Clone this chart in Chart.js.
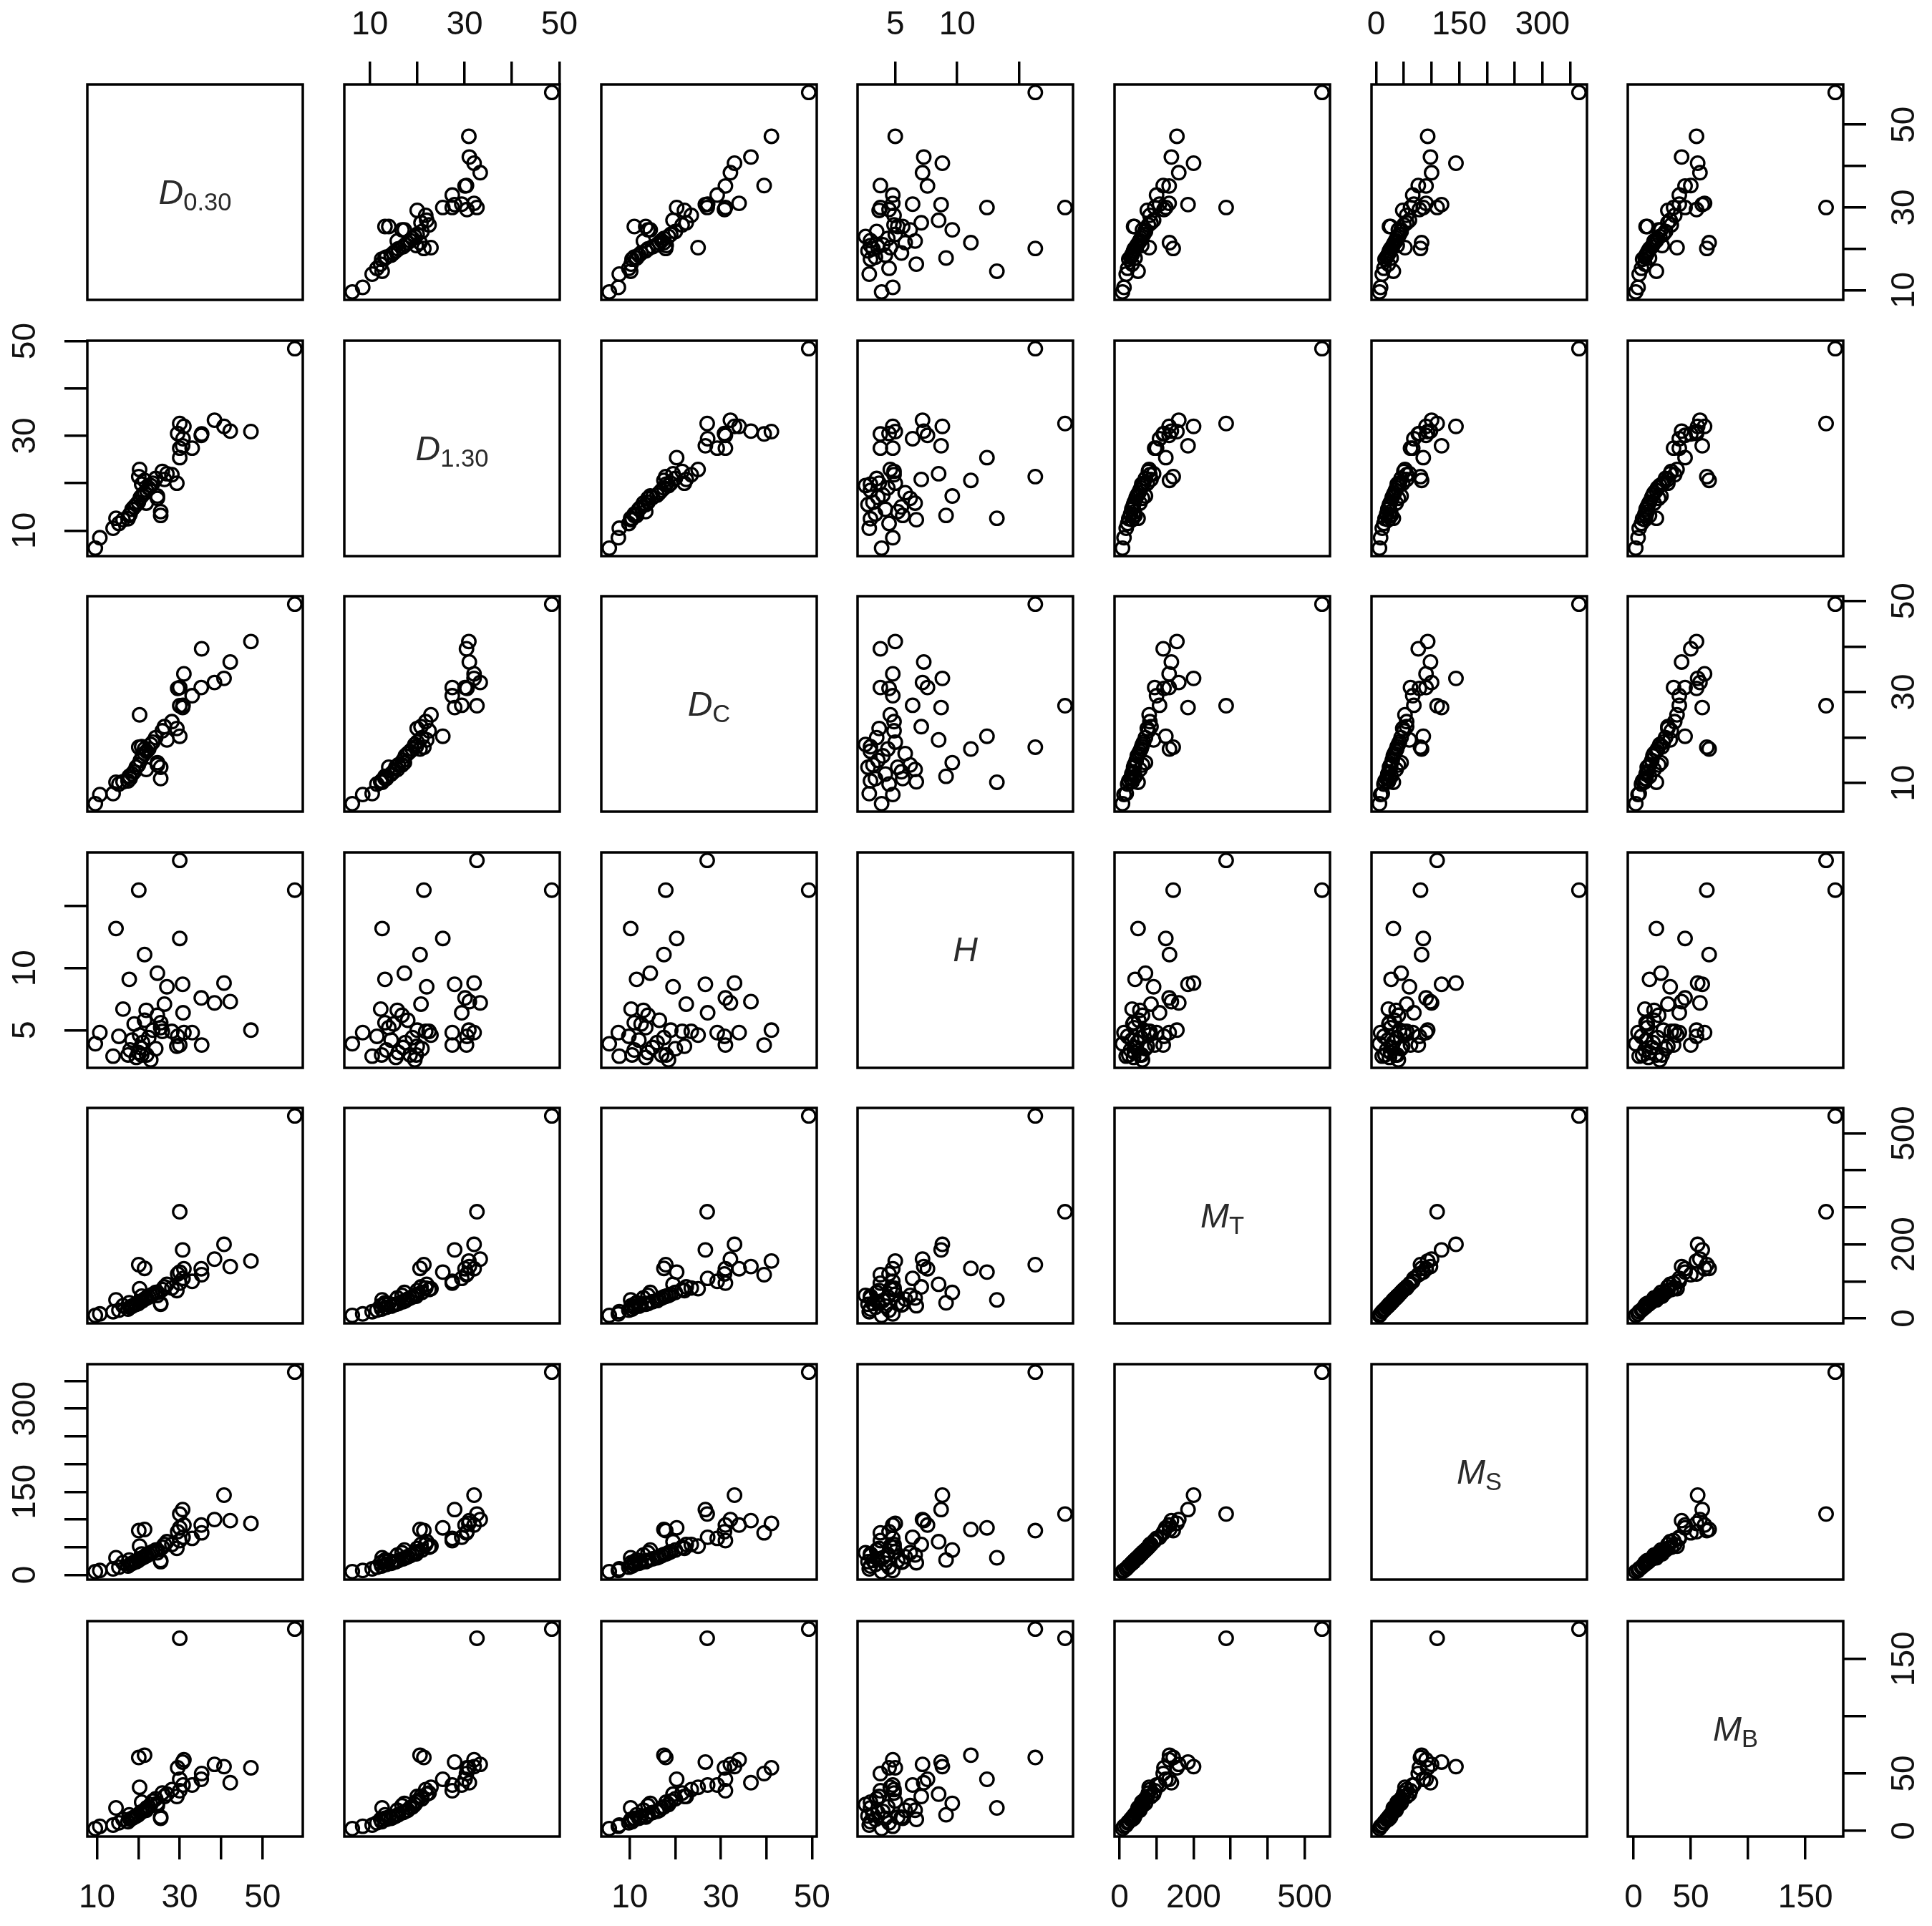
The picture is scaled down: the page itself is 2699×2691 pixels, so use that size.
<!DOCTYPE html>
<html>
<head>
<meta charset="utf-8">
<script src="https://cdn.jsdelivr.net/npm/chart.js@4.4.1/dist/chart.umd.min.js"></script>
<style>
  body { margin: 0; background: #fff; width: 2699px; height: 2691px; position: relative; overflow: hidden; }
  .cell { position: absolute; }
  .lab { position: absolute; display: flex; align-items: center; justify-content: center;
         font-family: "Liberation Sans", Arial, sans-serif; font-size: 48px; color: #2a2a2a; line-height: 1; }
  .lab sub { font-size: 0.72em; vertical-align: baseline; position: relative; top: 0.28em; font-style: normal; }
  .lab.lift span { position: relative; top: -15px; }
</style>
</head>
<body>
<script>
// one entry per tree, same order in every array
const D030 = [57.8,30.0,20.1,14.6,30.0,21.5,17.8,24.6,26.9,30.7,40.7,35.2,38.4,42.2,47.2,30.8,16.3,21.9,24.6,26.3,35.3,33.0,30.0,31.0,29.5,10.7,9.6,13.9,15.3,17.5,18.0,18.5,19.0,19.5,20.0,20.5,21.0,21.5,22.0,22.5,23.0,20.8,23.5,24.2,25.8,20.3,25.4,25.4,28.1,29.3];
const D130 = [48.4,32.6,21.4,12.6,25.4,20.6,13.2,17.3,22.0,27.9,32.0,30.1,33.3,31.0,30.9,29.4,12.3,15.8,16.8,20.8,30.4,27.4,27.4,32.0,30.5,8.5,6.3,10.5,11.5,12.5,13.5,14.5,15.0,15.5,16.0,17.0,17.5,18.0,18.5,19.0,19.5,19.8,20.0,21.0,22.5,22.9,14.0,13.2,21.8,20.0];
const DC   = [49.3,27.0,17.9,10.2,20.3,17.5,11.5,14.5,19.5,26.6,33.0,31.0,32.1,36.6,41.1,27.1,10.3,13.0,14.0,22.4,39.5,29.2,31.0,34.0,30.8,7.5,5.5,7.7,9.8,10.5,11.0,12.0,12.5,13.5,14.0,15.0,16.0,16.5,17.0,17.5,18.5,18.0,19.0,20.0,21.5,25.0,13.5,11.0,23.5,22.0];
const H    = [16.3,18.7,16.3,13.2,12.4,11.1,9.1,9.6,8.5,8.7,8.8,7.6,7.2,7.3,5.0,6.4,6.7,6.6,6.2,7.1,3.8,4.8,3.8,4.8,4.5,4.8,3.9,2.9,4.5,3.0,3.4,4.2,5.5,2.8,3.2,3.6,4.0,5.8,3.0,4.4,2.6,3.0,5.0,3.5,4.9,4.6,5.2,5.6,4.9,3.7];
const MT   = [547,288,145,50,125,135,42,70,92,185,200,134,160,140,155,108,34,55,62,85,118,100,95,134,120,12,8,18,22,25,30,33,36,38,40,45,48,52,55,58,62,60,65,70,78,80,40,38,82,75];
const MS   = [366,110,80,31,85,82,27,45,60,118,144,90,100,98,93,68,22,36,40,55,76,66,62,90,78,8,6,11,14,16,19,21,23,24,26,29,31,33,35,37,40,38,42,45,50,52,26,24,55,48];
const MB   = [176,168,64,20,45,66,14,24,32,60,56,45,58,42,55,40,10,18,22,30,50,40,35,62,55,4,2,5,7,8,10,11,12,13,14,16,17,18,20,21,23,25,26,28,33,38,12,11,36,30];

// tick marks, and the ones that carry a printed label
const ticksD  = [10,20,30,40,50],               labelsD  = [10,30,50];
const ticksH  = [5,10,15],                      labelsH  = [5,10];
const ticksMT = [0,100,200,300,400,500],        labelsMT = [0,200,500];
const ticksMS = [0,50,100,150,200,250,300,350], labelsMS = [0,150,300];
const ticksMB = [0,50,100,150],                 labelsMB = [0,50,150];

const vars = [
  {v: D030, ticks: ticksD,  labs: labelsD,  name: '<i>D</i><sub>0.30</sub>'},
  {v: D130, ticks: ticksD,  labs: labelsD,  name: '<i>D</i><sub>1.30</sub>'},
  {v: DC,   ticks: ticksD,  labs: labelsD,  name: '<i>D</i><sub>C</sub>'},
  {v: H,    ticks: ticksH,  labs: labelsH,  name: '<i>H</i>'},
  {v: MT,   ticks: ticksMT, labs: labelsMT, name: '<i>M</i><sub>T</sub>'},
  {v: MS,   ticks: ticksMS, labs: labelsMS, name: '<i>M</i><sub>S</sub>'},
  {v: MB,   ticks: ticksMB, labs: labelsMB, name: '<i>M</i><sub>B</sub>'}
];

// layout of the 7x7 grid
const colLeft = [122, 481, 840, 1198, 1557, 1916, 2274];
const rowTop  = [118, 476, 833, 1191, 1548, 1906, 2265];
const BOX = 301, BAND = 125, EDGE = 40, TL = 32;
const FONT = {family: '"Liberation Sans", Arial, sans-serif', size: 46};

const mctx = document.createElement('canvas').getContext('2d');
mctx.font = '46px "Liberation Sans", Arial, sans-serif';
function widest(labs) {
  return Math.max(...labs.map(l => mctx.measureText(String(l)).width));
}

// R style range: data range stretched by 4% each side
function rng(arr) {
  const lo = Math.min(...arr), hi = Math.max(...arr), d = (hi - lo) * 0.04;
  return [lo - d, hi + d];
}

function scaleOpts(k, pos, show) {
  const va = vars[k];
  const [lo, hi] = rng(va.v);
  const horiz = pos === 'top' || pos === 'bottom';
  const pad = horiz ? (pos === 'bottom' ? 27 : 23) : 86 - TL - widest(va.labs) / 2;
  return {
    type: 'linear', position: pos, min: lo, max: hi, display: show,
    grid: {drawOnChartArea: false, drawTicks: true, tickLength: TL, tickWidth: 3.5, lineWidth: 3.5, tickColor: '#000', color: '#000'},
    border: {display: false},
    ticks: {
      autoSkip: false, color: '#111', font: FONT, padding: pad,
      crossAlign: horiz ? 'near' : 'center',
      minRotation: horiz ? 0 : 90, maxRotation: horiz ? 0 : 90,
      callback: v => va.labs.includes(v) ? String(v) : ''
    },
    afterBuildTicks: s => { s.ticks = va.ticks.filter(t => t >= lo && t <= hi).map(t => ({value: t})); },
    afterFit: s => {
      if (!show) return;
      if (horiz) s.height = BAND; else s.width = BAND;
      s.paddingLeft = s.paddingRight = s.paddingTop = s.paddingBottom = 0;
    }
  };
}

// panel frame
const boxPlugin = {
  id: 'box',
  afterDraw(c) {
    const a = c.chartArea, ctx = c.ctx;
    ctx.save();
    ctx.lineWidth = 3.5;
    ctx.strokeStyle = '#000';
    ctx.strokeRect(a.left, a.top, a.right - a.left, a.bottom - a.top);
    ctx.restore();
  }
};

for (let i = 0; i < 7; i++) {
  for (let j = 0; j < 7; j++) {
    const top = i === 0 && j % 2 === 1;
    const bottom = i === 6 && j % 2 === 0;
    const left = j === 0 && i % 2 === 1;
    const right = j === 6 && i % 2 === 0;
    const pl = left ? BAND : EDGE, pr = right ? BAND : EDGE;
    const pt = top ? BAND : EDGE, pb = bottom ? BAND : EDGE;

    const wrap = document.createElement('div');
    wrap.className = 'cell';
    wrap.style.left = (colLeft[j] - pl) + 'px';
    wrap.style.top = (rowTop[i] - pt) + 'px';
    const cv = document.createElement('canvas');
    cv.width = BOX + pl + pr;
    cv.height = BOX + pt + pb;
    cv.style.width = cv.width + 'px';
    cv.style.height = cv.height + 'px';
    wrap.appendChild(cv);
    document.body.appendChild(wrap);

    const pts = i === j ? [] : vars[j].v.map((x, n) => ({x: x, y: vars[i].v[n]}));

    new Chart(cv, {
      type: 'scatter',
      data: {
        datasets: [{
          data: pts,
          pointStyle: 'circle',
          pointRadius: 9.3,
          pointHoverRadius: 9.3,
          pointBorderWidth: 3.3,
          borderColor: '#000',
          backgroundColor: 'rgba(0,0,0,0)',
          clip: false
        }]
      },
      options: {
        responsive: false,
        animation: false,
        devicePixelRatio: 1,
        events: [],
        layout: {padding: {left: left ? 0 : EDGE, right: right ? 0 : EDGE, top: top ? 0 : EDGE, bottom: bottom ? 0 : EDGE}},
        plugins: {legend: {display: false}, tooltip: {enabled: false}},
        scales: {
          x: scaleOpts(j, top ? 'top' : 'bottom', top || bottom),
          y: scaleOpts(i, right ? 'right' : 'left', left || right)
        }
      },
      plugins: [boxPlugin]
    });

    if (i === j) {
      const lab = document.createElement('div');
      lab.className = 'lab' + (i === 3 ? ' lift' : '');
      lab.style.left = colLeft[j] + 'px';
      lab.style.top = rowTop[i] + 'px';
      lab.style.width = BOX + 'px';
      lab.style.height = BOX + 'px';
      lab.innerHTML = '<span>' + vars[i].name + '</span>';
      document.body.appendChild(lab);
    }
  }
}
</script>
</body>
</html>
